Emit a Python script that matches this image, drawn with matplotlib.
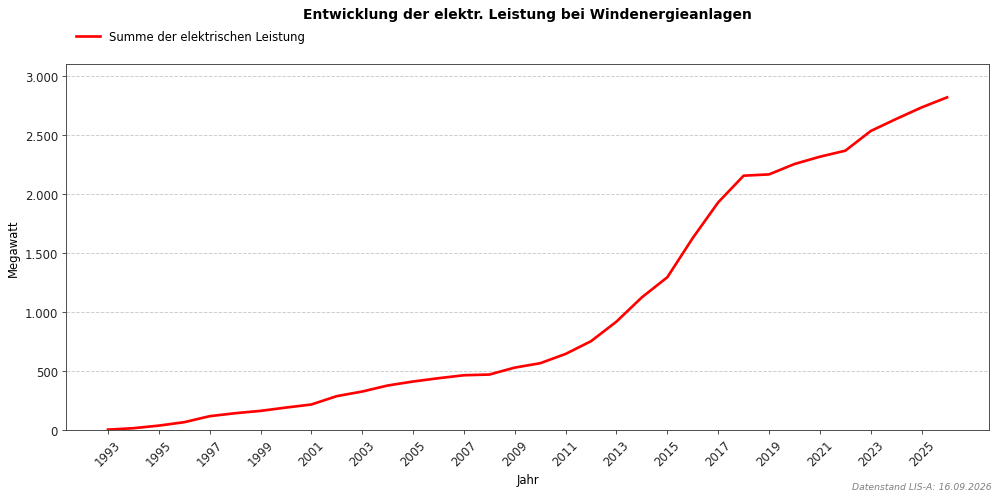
import matplotlib
matplotlib.use("Agg")
import matplotlib.pyplot as plt
from matplotlib.ticker import FuncFormatter

jahre = list(range(1993, 2027))
leistung = [2, 14, 36, 65, 116, 141, 161, 189, 215, 286, 325, 376, 410, 438,
            463, 469, 528, 565, 644, 752, 918, 1124, 1294, 1627, 1929, 2155,
            2166, 2254, 2316, 2367, 2534, 2636, 2734, 2819]
titel = "Entwicklung der elektr. Leistung bei Windenergieanlagen"
label = "Summe der elektrischen Leistung"
stand = "Datenstand LIS-A: 16.09.2026"

fig = plt.figure(figsize=(12, 6.012), dpi=1000 / 12)
ax = fig.add_axes([0.066, 0.140, 0.923, 0.730])

ax.plot(jahre, leistung, color="red", linewidth=2.3, label=label)
ax.set_ylim(0, max(leistung) * 1.1)
ax.set_xticks(jahre[::2])
ax.tick_params(axis="x", labelrotation=45)
ax.yaxis.set_major_formatter(FuncFormatter(lambda v, p: f"{int(v):,}".replace(",", ".")))
ax.grid(axis="y", linestyle="--", color="#cccccc", linewidth=0.8)
ax.set_axisbelow(True)
for s in ax.spines.values():
    s.set_color("#444444")
ax.tick_params(colors="#444444", labelcolor="#222222")

ax.set_xlabel("Jahr")
ax.set_ylabel("Megawatt")
ax.set_title(titel, fontsize=12, fontweight="bold", pad=40)
ax.legend(loc="lower left", bbox_to_anchor=(0, 1.03), frameon=False)

fig.text(0.992, 0.018, stand, ha="right", va="bottom", fontsize=8,
         style="italic", color="gray")

fig.savefig("out.png", dpi=1000 / 12)
